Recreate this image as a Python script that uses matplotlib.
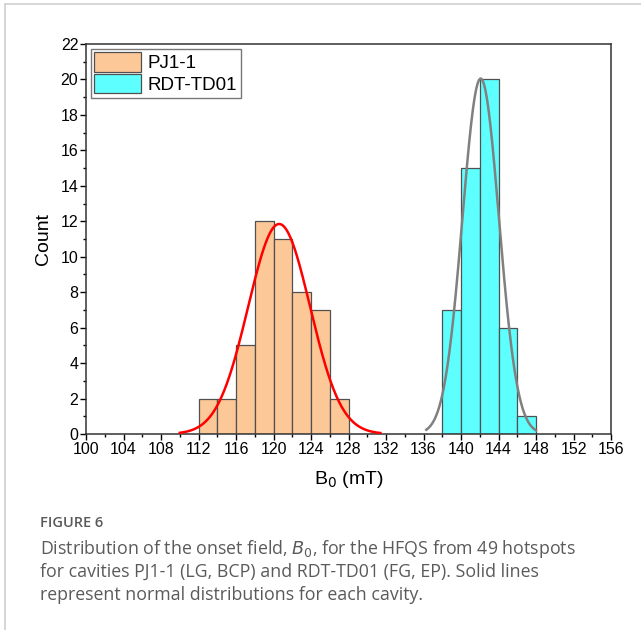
import numpy as np
import matplotlib.pyplot as plt
from matplotlib.lines import Line2D
from matplotlib.ticker import MultipleLocator

# histogram counts, 2 mT bins
pj_edges = [112, 114, 116, 118, 120, 122, 124, 126, 128]
pj_counts = [2, 2, 5, 12, 11, 8, 7, 2]
rdt_edges = [138, 140, 142, 144, 146, 148]
rdt_counts = [7, 15, 20, 6, 1]

# normal fit parameters (mean, sigma, curve range)
pj_fit = (120.6, 3.3, 110.0, 131.4)
rdt_fit = (142.1, 1.95, 136.3, 148.0)

plt.rcParams['font.family'] = ['Liberation Sans', 'DejaVu Sans']

fig = plt.figure(figsize=(6.41, 6.30), dpi=100)
W, H = 641, 630
ax = fig.add_axes([86 / W, 1 - 434 / H, (611 - 86) / W, (434 - 44) / H])


def draw_hist(edges, counts, color, label):
    edges = np.array(edges, dtype=float)
    ax.bar(edges[:-1], counts, width=np.diff(edges), align='edge',
           color=color, edgecolor='#505050', linewidth=0.9, label=label, zorder=2)


def draw_fit(fit, counts, binw, color):
    mu, sd, lo, hi = fit
    x = np.linspace(lo, hi, 300)
    n = sum(counts)
    y = n * binw / (sd * np.sqrt(2 * np.pi)) * np.exp(-(x - mu) ** 2 / (2 * sd ** 2))
    ax.plot(x, y, color=color, lw=1.8, zorder=3)


draw_hist(pj_edges, pj_counts, '#FDC897', 'PJ1-1')
draw_hist(rdt_edges, rdt_counts, '#5EFFFF', 'RDT-TD01')
draw_fit(pj_fit, pj_counts, 2, '#FF0000')
draw_fit(rdt_fit, rdt_counts, 2, '#808080')

ax.set_xlim(100, 156)
ax.set_ylim(0, 22)
ax.xaxis.set_major_locator(MultipleLocator(4))
ax.xaxis.set_minor_locator(MultipleLocator(2))
ax.yaxis.set_major_locator(MultipleLocator(2))
ax.yaxis.set_minor_locator(MultipleLocator(1))
ax.tick_params(which='both', direction='out', width=1.0, colors='black',
               labelsize=11.5, pad=1.5)
ax.tick_params(which='major', length=4)
ax.tick_params(which='minor', length=2.5)
for s in ax.spines.values():
    s.set_linewidth(1.1)
    s.set_color('#333333')

ax.set_xlabel('B$_0$ (mT)', fontsize=14, labelpad=9)
ax.set_ylabel('Count', fontsize=14, labelpad=6)

leg = ax.legend(loc='upper left', fontsize=13.5, frameon=True, fancybox=False,
                edgecolor='#555555', borderpad=0.2, handlelength=2.5,
                handleheight=1.2, handletextpad=0.35, labelspacing=0.1,
                borderaxespad=0.25)
leg.get_frame().set_linewidth(1.0)

# card border
fig.add_artist(Line2D([5 / W, 1], [1 - 4 / H, 1 - 4 / H], color='#d0d0d0', lw=1.2))
fig.add_artist(Line2D([5 / W, 5 / W], [0, 1 - 4 / H], color='#d0d0d0', lw=1.2))

# caption
cap = '#5a5a5a'
fig.text(40 / W, 1 - 523 / H, 'FIGURE 6', fontsize=10.5, color=cap, weight='semibold',
         family=['Open Sans', 'DejaVu Sans'], va='center')
lines = ['Distribution of the onset field, $\\it{B}_0$, for the HFQS from 49 hotspots',
         'for cavities PJ1-1 (LG, BCP) and RDT-TD01 (FG, EP). Solid lines',
         'represent normal distributions for each cavity.']
for i, t in enumerate(lines):
    fig.text(40 / W, 1 - (549 + i * 23) / H, t, fontsize=12.8, color=cap,
             family=['Open Sans', 'DejaVu Sans'], va='center')

fig.savefig('out.png', dpi=100)
